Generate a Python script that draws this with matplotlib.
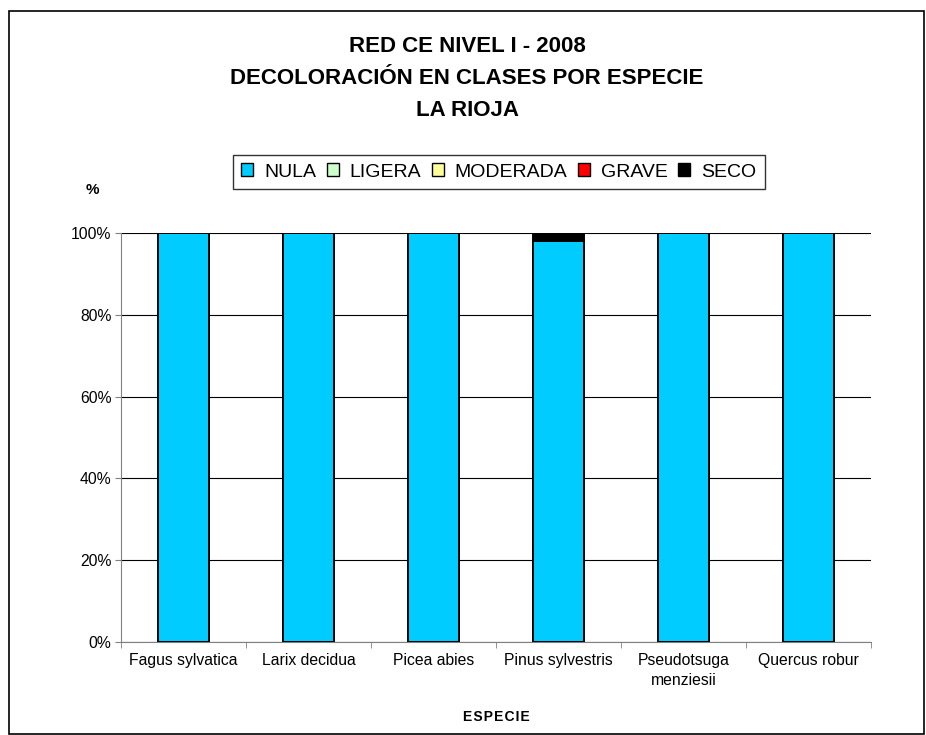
import numpy as np
import matplotlib
matplotlib.use("Agg")
import matplotlib.pyplot as plt
from matplotlib.patches import Rectangle

especies = ["Fagus sylvatica", "Larix decidua", "Picea abies", "Pinus sylvestris",
            "Pseudotsuga\nmenziesii", "Quercus robur"]
clases = ["NULA", "LIGERA", "MODERADA", "GRAVE", "SECO"]
nula = [100, 100, 100, 98, 100, 100]
ligera = [0, 0, 0, 0, 0, 0]
moderada = [0, 0, 0, 0, 0, 0]
grave = [0, 0, 0, 0, 0, 0]
seco = [0, 0, 0, 2, 0, 0]
colores = ["#00CCFF", "#CCFFCC", "#FFFF99", "#FF0000", "#000000"]

plt.rcParams["font.family"] = ["Liberation Sans", "DejaVu Sans"]

W, H = 926, 735
fig = plt.figure(figsize=(W / 100, H / 100), dpi=100)
# plot area in pixels: left 121, right 871, top 233, bottom 642
ax = fig.add_axes([121 / W, 1 - 642 / H, 750 / W, 409 / H])

x = np.arange(len(especies))
bottom = np.zeros(len(especies))
for nombre, vals, c in zip(clases, [nula, ligera, moderada, grave, seco], colores):
    ax.bar(x, vals, width=0.41, bottom=bottom, color=c, edgecolor="black",
           linewidth=1.4, label=nombre, zorder=3)
    bottom += np.array(vals)

ax.set_xlim(-0.5, len(especies) - 0.5)
ax.set_ylim(0, 100)
ax.set_yticks(np.arange(0, 101, 20))
ax.set_yticklabels([f"{v}%" for v in range(0, 101, 20)], fontsize=11.3)
ax.yaxis.grid(True, color="black", linewidth=0.8, zorder=0)
ax.set_xticks(np.arange(-0.5, len(especies), 1), minor=True)
ax.set_xticks(x)
ax.set_xticklabels(especies, fontsize=11.3, linespacing=1.4, va="top")
ax.tick_params(axis="x", which="major", length=0, pad=8)
ax.tick_params(axis="x", which="minor", length=4, color="#808080")
ax.tick_params(axis="y", length=4, pad=3, color="#808080")
for s in ["top", "right"]:
    ax.spines[s].set_visible(False)
ax.spines["left"].set_color("#808080")
ax.spines["bottom"].set_color("#808080")

fig.text(496 / W, 1 - 717 / H, "\u200a".join("ESPECIE"), ha="center", va="center",
         fontsize=10, fontweight="bold")

titulos = ["RED CE NIVEL I - 2008", "DECOLORACIÓN EN CLASES POR ESPECIE", "LA RIOJA"]
for t, yp in zip(titulos, [47, 78.5, 110]):
    fig.text(467 / W, 1 - yp / H, t, ha="center", va="center",
             fontsize=16, fontweight="bold")
fig.text(92 / W, 1 - 190 / H, "%", ha="center", va="center",
         fontsize=11, fontweight="bold")

leg = fig.legend(loc="center right", bbox_to_anchor=(765 / W, 1 - 172 / H), ncol=5,
                 fontsize=14, frameon=True, fancybox=False, handlelength=0.62,
                 handleheight=0.62, handletextpad=0.55, columnspacing=0.55,
                 borderpad=0.45, borderaxespad=0)
leg.get_frame().set_edgecolor("black")
leg.get_frame().set_linewidth(1)
for h in leg.legend_handles:
    h.set_linewidth(1)

fig.patches.append(Rectangle((9 / W, 1 / H), 915 / W, 723 / H,
                             transform=fig.transFigure, fill=False,
                             edgecolor="black", linewidth=1.2))

fig.savefig("out.png", dpi=100)
